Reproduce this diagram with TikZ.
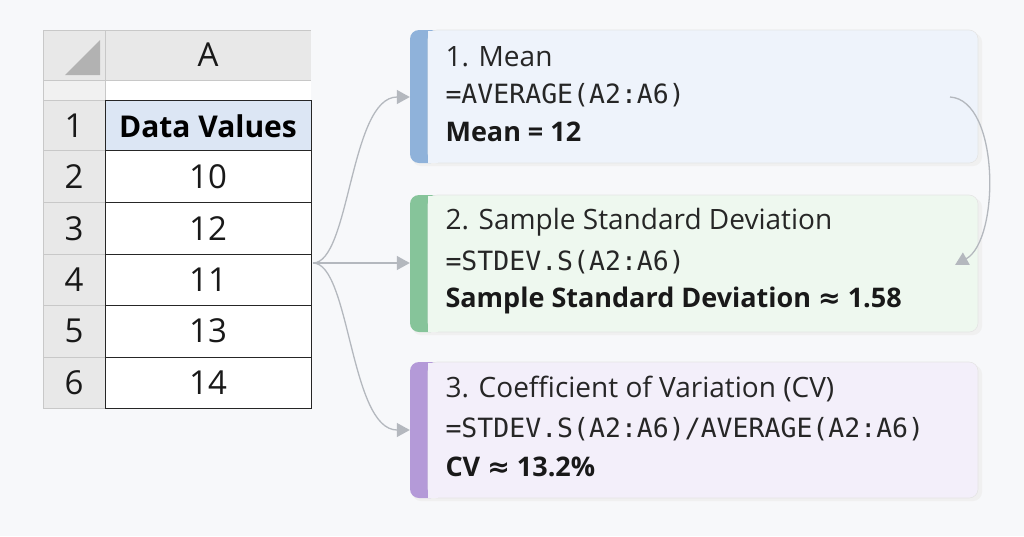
\documentclass[tikz,border=0pt]{standalone}
\usepackage{fontspec}
\setmainfont{Open Sans}
\newfontfamily\monof{DejaVu Sans Mono}
\newfontfamily\symf{DejaVu Sans}
\usetikzlibrary{arrows.meta}
\definecolor{bg}{HTML}{F7F8FA}
\definecolor{hdr}{HTML}{E8E8E8}
\definecolor{grid}{HTML}{C8C8C8}
\definecolor{selh}{HTML}{DCE6F4}
\definecolor{blueF}{HTML}{EEF3FB}\definecolor{blueS}{HTML}{8FB2DA}
\definecolor{greenF}{HTML}{EEF8EF}\definecolor{greenS}{HTML}{86C49A}
\definecolor{purpF}{HTML}{F3EFFA}\definecolor{purpS}{HTML}{B49AD8}
\definecolor{arr}{HTML}{B4B8BE}
\tikzset{
 cell/.style={draw=black!85,line width=0.9pt},
 hcell/.style={fill=hdr,draw=grid,line width=0.6pt},
 num/.style={font=\fontsize{33}{36}\selectfont,text=black!90},
 card/.style={rounded corners=9pt,draw=black!10,line width=0.6pt},
 ttl/.style={anchor=west,font=\fontsize{28}{31}\selectfont,text=black!85},
 frm/.style={anchor=west,font=\monof\fontsize{26.5}{30}\selectfont,text=black!85},
 res/.style={anchor=west,font=\bfseries\fontsize{27}{30}\selectfont,text=black!90},
 con/.style={draw=arr,line width=1.3pt,-{Triangle[width=14pt,length=13pt]}}
}
\begin{document}
\begin{tikzpicture}[x=1pt,y=-1pt]
\useasboundingbox (0,0) rectangle (1024,536);
\fill[bg] (0,0) rectangle (1024,536);
% spreadsheet header
\fill[hdr] (43,30) rectangle (105,408);
\fill[hdr] (105,30) rectangle (311,80);
\fill[hdr!60!white] (43,80) rectangle (105,100);
\fill[white] (105,80) rectangle (311,100);
\fill[black!30] (65,75) -- (100,75) -- (100,40) -- cycle;
\node[num] (colA) at (208,55) {A};
\fill[selh] (105,100) rectangle (311,150);
\fill[white] (105,150) rectangle (311,408);
\foreach \y in {30,80,100,150,202,254,305,357,408} \draw[grid] (43,\y) -- (105,\y);
\draw[grid] (105,30) -- (311,30) (105,80) -- (311,80);
\draw[grid] (43,30) -- (43,408) (105,30) -- (105,408);
\draw[cell] (105,100) rectangle (311,408);
\foreach \y in {150,202,254,305,357} \draw[cell] (105,\y) -- (311,\y);
\node[font=\bfseries\fontsize{30}{34}\selectfont] (h1) at (208,126) {Data Values};
\foreach \r/\yc/\v in {1/126/,2/177/10,3/229/12,4/280/11,5/331/13,6/383/14}{
 \node[num] (r\r) at (74,\yc) {\r};
 \node[num] (v\r) at (208,\yc) {\v};}
\coordinate (src) at (313,263);
% cards
\foreach \n/\t/\b/\f/\s in {c1/30/163/blueF/blueS,c2/195/332/greenF/greenS,c3/362/498/purpF/purpS}{
 \fill[black!6,rounded corners=9pt] (412,\t+3) rectangle (982,\b+3);
 \fill[\s,rounded corners=9pt] (410,\t) rectangle (440,\b);
 \filldraw[fill=\f,card] (428,\t) rectangle (978,\b);
 \fill[\f] (428,\t+0.5) rectangle (438,\b-0.5);
 \node[inner sep=0,minimum width=568pt,minimum height=\b-\t] (\n) at (694,{(\t+\b)/2}) {};}
\node[ttl] (t1) at (442,57) {1. Mean};
\node[frm] (f1) at (442,95) {=AVERAGE(A2:A6)};
\node[res] (s1) at (442,132) {Mean = 12};
\node[ttl] (t2) at (442,222) {2. Sample Standard Deviation};
\node[frm] (f2) at (442,262) {=STDEV.S(A2:A6)};
\node[res] (s2) at (442,300) {Sample Standard Deviation {\symf\bfseries ≈} 1.58};
\node[ttl] (t3) at (442,389) {3. Coefficient of Variation (CV)};
\node[frm] (f3) at (442,429) {=STDEV.S(A2:A6)/AVERAGE(A2:A6)};
\node[res] (s3) at (442,467) {CV {\symf\bfseries ≈} 13.2\%};
% connectors
\draw[con] (src) .. controls (350,263) and (350,97) .. (c1.west |- 0,97);
\draw[con] (src) -- (c2.west |- 0,263);
\draw[con] (src) .. controls (350,263) and (350,430) .. (c3.west |- 0,430);
\coordinate (r1) at (950,97);
\draw[con] (r1) .. controls (1000,100) and (1000,240) .. (955,265);
\end{tikzpicture}
\end{document}
